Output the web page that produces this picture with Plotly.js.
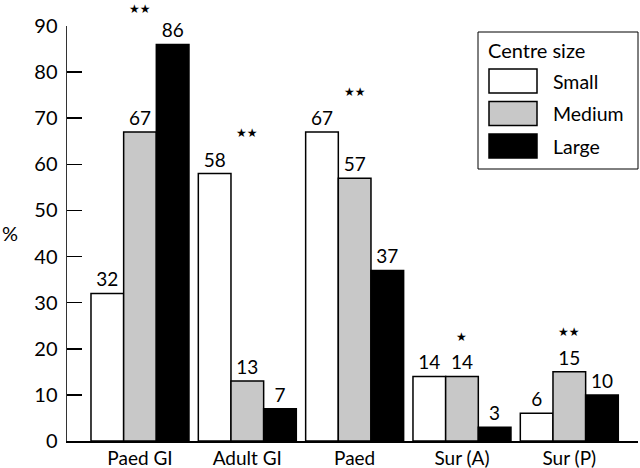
<!DOCTYPE html>
<html>
<head>
<meta charset="utf-8">
<script src="https://cdn.plot.ly/plotly-3.0.1.min.js"></script>
<style>html,body{margin:0;padding:0;background:#fff;}#chart{width:640px;height:468px;}</style>
</head>
<body>
<div id="chart"></div>
<script>
// ---- data ----
const categories = ["Paed GI", "Adult GI", "Paed", "Sur (A)", "Sur (P)"];
const seriesNames = ["Small", "Medium", "Large"];
const smallVals = [32, 58, 67, 14, 6];
const mediumVals = [67, 13, 57, 14, 15];
const largeVals = [86, 7, 37, 3, 10];
const significance = ["★★", "★★", "★★", "★", "★★"];
const yTicks = [0, 10, 20, 30, 40, 50, 60, 70, 80, 90];
const legendTitle = "Centre size";
const yTitle = "%";

// ---- styling ----
const colors = ["#ffffff", "#c8c8c8", "#000000"];
const FONT = "Lato, 'DejaVu Sans', sans-serif";
const starHeights = [93.7, 66.8, 75.7, 22.6, 23.6]; // in axis units (may exceed range)
const Y_MAX = 90;

const allVals = [smallVals, mediumVals, largeVals];
const traces = allVals.map((vals, i) => ({
  type: "bar",
  name: seriesNames[i],
  x: categories,
  y: vals,
  text: vals.map(String),
  textposition: "outside",
  textfont: {family: FONT, size: 19, color: "#000"},
  cliponaxis: false,
  marker: {color: colors[i], line: {color: "#000", width: 1.5}},
  hoverinfo: "skip"
}));

const annotations = significance.map((s, i) => ({
  x: categories[i], y: starHeights[i] / Y_MAX, xref: "x", yref: "paper",
  text: s, showarrow: false, font: {family: "DejaVu Sans", size: 12, color: "#000"},
  xanchor: "center", yanchor: "middle", borderpad: 0
}));

// custom legend (box + swatches + labels) in paper coordinates
const W = 571, H = 415, L = 67, T = 26;
const px = x => (x - L) / W;
const py = y => (T + H - y) / H;
annotations.push({
  xref: "paper", yref: "paper", x: px(0), y: py(233), xanchor: "left", yanchor: "middle",
  text: yTitle, showarrow: false, font: {family: FONT, size: 20, color: "#000"}
});
const shapes = [{
  type: "rect", xref: "paper", yref: "paper",
  x0: px(478), x1: px(638), y0: py(169), y1: py(32),
  line: {color: "#000", width: 1}, fillcolor: "#fff", layer: "above"
}];
annotations.push({
  xref: "paper", yref: "paper", x: px(486), y: py(50), xanchor: "left", yanchor: "middle",
  text: legendTitle, showarrow: false, font: {family: FONT, size: 20, color: "#000"}
});
seriesNames.forEach((n, i) => {
  const cy = 81 + i * 32.5;
  shapes.push({
    type: "rect", xref: "paper", yref: "paper",
    x0: px(489), x1: px(537), y0: py(cy + 12), y1: py(cy - 12),
    line: {color: "#000", width: 1.5}, fillcolor: colors[i], layer: "above"
  });
  annotations.push({
    xref: "paper", yref: "paper", x: px(551), y: py(cy), xanchor: "left", yanchor: "middle",
    text: n, showarrow: false, font: {family: FONT, size: 19.5, color: "#000"}
  });
});

const layout = {
  width: 640, height: 468,
  margin: {l: L, r: 2, t: T, b: 468 - T - H},
  paper_bgcolor: "#fff", plot_bgcolor: "#fff",
  showlegend: false,
  barmode: "group", bargap: 0.087, bargroupgap: 0,
  font: {family: FONT, color: "#000"},
  xaxis: {
    type: "category", range: [-0.68, 4.64],
    showline: true, linecolor: "#000", linewidth: 1.5,
    ticks: "", showgrid: false, zeroline: false,
    tickfont: {family: FONT, size: 19, color: "#000"}
  },
  yaxis: {
    range: [0, Y_MAX], tickvals: yTicks, ticktext: yTicks.map(String),
    showline: true, linecolor: "#333", linewidth: 1.5,
    ticks: "inside", ticklen: 15, tickwidth: 1.5, tickcolor: "#000",
    showgrid: false, zeroline: false,
    tickfont: {family: FONT, size: 20, color: "#000"}, ticklabelstandoff: 4
  },
  shapes: shapes,
  annotations: annotations
};

Plotly.newPlot("chart", traces, layout, {displayModeBar: false, staticPlot: true});
</script>
</body>
</html>
